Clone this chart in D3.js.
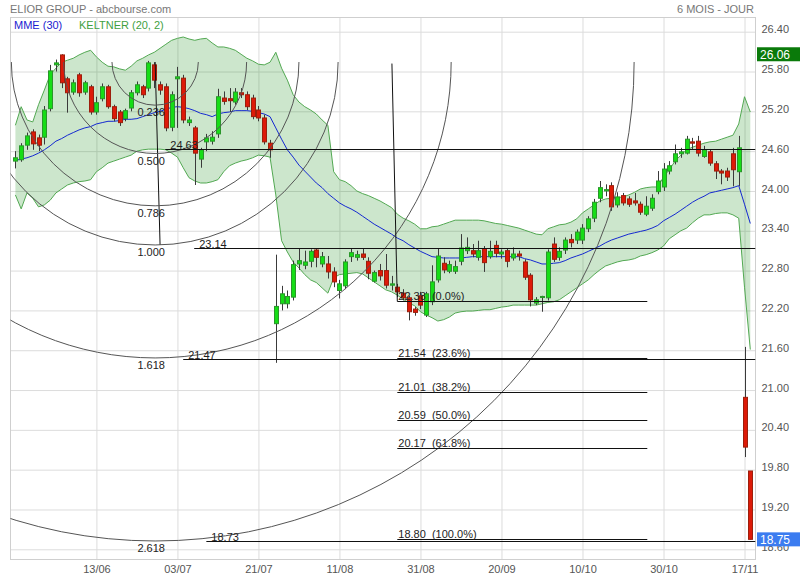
<!DOCTYPE html>
<html><head><meta charset="utf-8">
<script src="https://cdn.jsdelivr.net/npm/d3@7/dist/d3.min.js"></script>
<style>
html,body{margin:0;padding:0;background:#fff;}
svg text{font-family:"Liberation Sans",Arial,sans-serif;}
</style></head><body>
<svg id="chart" width="800" height="580"></svg>
<script>
// ---------------- DATA ----------------
const title = "ELIOR GROUP - abcbourse.com";
const period = "6 MOIS - JOUR";
const xTickIndex = [14, 28, 42, 56, 70, 84, 98, 112, 126];
const xTickLabels = ["13/06","03/07","21/07","11/08","31/08","20/09","10/10","30/10","17/11"];
const yTicks = [26.40,25.80,25.20,24.60,24.00,23.40,22.80,22.20,21.60,21.00,20.40,19.80,19.20,18.60];

const opens = [24.45,24.47,24.69,24.89,24.80,24.81,25.24,25.90,26.05,25.69,25.49,25.75,25.49,25.57,25.19,25.39,25.57,25.27,25.19,25.09,
25.25,25.48,25.57,25.55,25.90,25.60,25.57,24.96,25.69,25.70,25.03,24.95,24.48,24.74,24.75,24.86,25.40,25.39,25.34,25.48,
25.45,25.40,25.22,25.10,24.72,22.00,22.30,22.30,22.40,22.90,22.88,22.94,23.11,22.90,22.90,22.78,22.50,22.57,23.01,23.00,
23.05,22.94,22.64,22.80,22.80,22.58,22.55,22.46,22.39,22.22,22.42,22.13,22.33,22.66,22.91,22.79,22.79,22.94,23.10,23.10,
23.00,23.13,23.01,23.18,23.05,23.10,22.99,23.05,22.93,22.73,22.31,22.40,22.39,23.20,23.00,23.11,23.27,23.26,23.26,23.43,
23.59,23.89,24.00,24.08,23.79,23.93,23.88,23.85,23.80,23.65,23.74,23.99,24.06,24.30,24.44,24.56,24.57,24.74,24.75,24.52,
24.59,24.41,24.30,24.30,24.56,24.29,20.89,19.78];
const highs = [24.60,24.72,24.88,24.93,24.85,25.28,25.90,25.98,26.06,25.72,25.68,25.78,25.66,25.60,25.42,25.62,25.60,25.30,25.22,25.24,
25.52,25.65,25.60,25.96,25.94,25.65,25.62,25.50,25.87,25.75,25.12,24.98,24.65,24.86,24.90,25.54,25.50,25.55,25.55,25.55,
25.50,25.45,25.28,25.15,24.77,23.04,22.57,22.50,22.95,23.14,23.10,23.12,23.14,23.08,23.02,22.85,22.66,22.97,23.13,23.10,
23.14,23.00,22.80,22.90,23.05,22.72,22.60,22.52,22.42,22.25,22.48,22.48,22.88,23.14,23.00,22.95,22.95,23.35,23.30,23.20,
23.25,23.17,23.25,23.25,23.12,23.13,23.15,23.10,22.97,22.76,22.40,22.42,23.12,23.30,23.15,23.30,23.35,23.42,23.50,23.62,
23.88,24.15,24.10,24.13,23.98,23.97,23.92,23.97,23.84,23.92,23.95,24.30,24.42,24.45,24.70,24.65,24.83,24.80,24.83,24.68,
24.63,24.45,24.33,24.35,24.65,24.83,21.65,19.78];
const lows = [24.34,24.44,24.62,24.62,24.60,24.70,25.20,25.80,25.55,25.18,25.45,25.42,25.45,25.15,25.15,25.35,25.24,25.05,24.98,25.05,
25.20,25.44,25.40,25.50,25.55,25.45,24.90,24.90,24.95,25.02,24.98,24.09,24.35,24.60,24.70,24.80,25.30,25.19,25.30,25.40,
25.22,25.08,25.05,24.70,24.50,21.41,22.20,22.23,22.35,22.81,22.82,22.85,22.85,22.85,22.68,22.55,22.38,22.52,22.93,22.95,
22.96,22.67,22.62,22.65,22.53,22.50,22.40,22.35,22.05,22.12,22.22,22.10,22.28,22.62,22.76,22.76,22.75,22.88,23.05,23.00,
22.95,22.78,22.98,23.00,22.98,22.85,22.95,22.95,22.66,22.26,22.28,22.18,22.35,22.93,22.95,23.05,23.15,23.20,23.20,23.38,
23.53,23.83,23.92,23.70,23.75,23.78,23.76,23.78,23.64,23.62,23.70,23.95,24.00,24.25,24.40,24.50,24.55,24.62,24.52,24.50,
24.38,24.18,24.10,24.15,24.07,24.07,19.99,18.75];
const closes = [24.50,24.68,24.83,24.71,24.69,25.22,25.81,25.93,25.63,25.48,25.63,25.48,25.63,25.19,25.33,25.57,25.27,25.09,25.03,25.21,
25.48,25.60,25.45,25.93,25.67,25.52,24.95,25.45,25.72,25.07,25.07,24.57,24.62,24.80,24.81,25.42,25.35,25.36,25.49,25.45,
25.27,25.12,25.10,24.74,24.62,22.26,22.45,22.41,22.89,22.95,22.93,23.09,23.00,23.01,22.78,22.63,22.60,22.93,23.07,23.04,
23.00,22.76,22.77,22.72,22.58,22.60,22.48,22.39,22.18,22.17,22.28,22.45,22.63,23.02,22.81,22.89,22.86,23.14,23.15,23.05,
23.10,22.92,23.09,23.06,23.08,22.94,23.05,23.02,22.70,22.36,22.36,22.41,23.08,22.97,23.09,23.26,23.22,23.38,23.44,23.58,
23.83,24.05,24.02,23.76,23.91,23.82,23.80,23.82,23.68,23.77,23.89,24.15,24.33,24.38,24.56,24.59,24.78,24.72,24.57,24.62,
24.42,24.30,24.27,24.21,24.32,24.65,20.14,18.75];

const mme30 = [24.46,24.48,24.50,24.53,24.57,24.62,24.68,24.75,24.79,24.84,24.88,24.92,24.95,24.97,25.01,25.03,25.05,25.05,25.06,25.08,
25.08,25.09,25.12,25.15,25.18,25.20,25.23,25.26,25.27,25.26,25.24,25.21,25.17,25.15,25.12,25.16,25.18,25.19,25.21,25.21,
25.21,25.20,25.18,25.16,25.12,24.95,24.78,24.62,24.51,24.39,24.30,24.21,24.12,24.05,23.96,23.89,23.82,23.77,23.73,23.68,
23.62,23.56,23.50,23.45,23.40,23.35,23.29,23.25,23.19,23.14,23.09,23.05,23.01,23.00,22.99,22.99,22.99,22.99,23.00,23.01,
23.01,23.01,23.01,23.01,23.01,23.01,23.01,23.01,22.98,22.96,22.93,22.90,22.90,22.91,22.92,22.95,22.99,23.02,23.05,23.09,
23.13,23.17,23.22,23.26,23.29,23.32,23.35,23.37,23.39,23.41,23.44,23.48,23.55,23.60,23.65,23.71,23.77,23.83,23.88,23.92,
23.97,23.99,24.01,24.03,24.05,24.08,23.80,23.51];
const keltnerUpper = [24.99,25.27,25.07,25.04,25.30,25.52,25.75,25.85,25.94,25.97,26.00,26.05,26.09,26.12,26.02,25.94,25.88,25.87,25.84,25.82,
25.88,25.96,26.00,26.05,26.09,26.15,26.21,26.27,26.30,26.32,26.29,26.27,26.29,26.30,26.23,26.17,26.17,26.15,26.12,26.06,
26.00,25.96,25.91,25.90,25.94,26.09,25.85,25.67,25.45,25.34,25.27,25.22,25.16,25.07,24.99,24.29,24.17,24.14,24.08,24.00,
23.96,23.93,23.89,23.85,23.80,23.75,23.65,23.59,23.55,23.50,23.43,23.43,23.46,23.47,23.50,23.53,23.56,23.56,23.56,23.56,
23.56,23.55,23.53,23.51,23.50,23.48,23.46,23.44,23.41,23.38,23.35,23.34,23.43,23.46,23.49,23.50,23.53,23.58,23.67,23.73,
23.79,23.85,23.88,23.89,23.90,23.91,23.94,23.98,24.03,24.05,24.06,24.06,24.21,24.32,24.45,24.54,24.62,24.66,24.69,24.72,
24.74,24.75,24.78,24.81,24.84,25.01,25.42,25.19];
const keltnerLower = [23.94,23.73,23.97,23.89,23.76,23.79,23.86,23.97,24.03,24.09,24.12,24.14,24.15,24.17,24.29,24.35,24.42,24.45,24.48,24.51,
24.54,24.60,24.62,24.63,24.63,24.63,24.62,24.57,24.51,24.35,24.20,24.15,24.12,24.12,24.14,24.17,24.29,24.38,24.42,24.45,
24.47,24.50,24.54,24.53,24.51,23.94,23.25,23.08,22.93,22.84,22.74,22.66,22.62,22.54,22.46,22.69,22.74,22.75,22.76,22.77,
22.75,22.69,22.63,22.57,22.51,22.48,22.43,22.37,22.31,22.27,22.18,22.13,22.09,22.04,22.06,22.10,22.16,22.18,22.19,22.19,
22.20,22.21,22.21,22.23,22.25,22.26,22.28,22.28,22.28,22.28,22.28,22.30,22.32,22.33,22.36,22.42,22.48,22.54,22.60,22.66,
22.74,22.81,22.87,22.90,22.93,22.95,22.96,22.98,23.02,23.04,23.07,23.11,23.17,23.28,23.34,23.40,23.44,23.52,23.59,23.64,
23.64,23.66,23.67,23.67,23.64,23.59,22.55,21.61];

// Fibonacci arcs (trend line top -> bottom, arcs centred on the top point)
const arcTrend = {i0: 24.15, v0: 25.943, i1: 25.0, v1: 23.187};
const arcLevels = [0.236, 0.5, 0.786, 1.0, 1.618, 2.618];
// horizontal lines drawn from the arcs
const hLineValues = [24.63, 23.14, 21.47, 18.73];
const hLineStartIndex = [25.9, 30.9, 29.0, 33.0];

// Fibonacci retracement (trend line top -> bottom, levels extended below)
const retrTrend = {i0: 65.07, v0: 25.92, i1: 66.0, v1: 22.335};
const retrEndIndex = 109.2;
const retrPercents = [0, 23.6, 38.2, 50.0, 61.8, 100.0];
const retrLabels = ["22.38", "21.54", "21.01", "20.59", "20.17", "18.80"];

const periodHigh = 26.06;
const lastClose = closes[closes.length - 1];

// ---------------- LAYOUT ----------------
const L = 10.5, R = 755.5, T = 17.5, B = 559.5;
const svg = d3.select("#chart");
const x = d3.scaleLinear().domain([0, 127]).range([15.4, 750.3]);
const y = d3.scaleLinear().domain([18.6, 26.4]).range([549.3, 31.7]);
const idx = d3.range(closes.length);

svg.append("defs").append("clipPath").attr("id","plot")
  .append("rect").attr("x",L).attr("y",T).attr("width",R-L).attr("height",B-T);

// grid + axes
svg.append("g").attr("transform",`translate(${R},0)`)
  .call(d3.axisRight(y).tickValues(yTicks).tickFormat(d3.format(".2f"))
    .tickSizeInner(-(R-L)).tickSizeOuter(0).tickPadding(6))
  .call(g=>g.select(".domain").remove())
  .call(g=>g.selectAll(".tick line").attr("stroke","#dcdcdc"))
  .call(g=>g.selectAll(".tick text").attr("fill","#555").attr("font-size",11)
    .attr("font-family","Liberation Sans, Arial, sans-serif").attr("dy","0.1em"));

svg.append("g").attr("transform",`translate(0,${B})`)
  .call(d3.axisBottom(x).tickValues(xTickIndex).tickFormat((d,i)=>xTickLabels[i])
    .tickSizeInner(-(B-T)).tickSizeOuter(0).tickPadding(6))
  .call(g=>g.select(".domain").remove())
  .call(g=>g.selectAll(".tick line").attr("stroke","#dcdcdc"))
  .call(g=>g.selectAll(".tick text").attr("fill","#555").attr("font-size",11)
    .attr("font-family","Liberation Sans, Arial, sans-serif"));

// frame
svg.append("rect").attr("x",L).attr("y",T).attr("width",R-L).attr("height",B-T)
  .attr("fill","none").attr("stroke","#cfcfcf");

const plot = svg.append("g").attr("clip-path","url(#plot)");

// Keltner channel
plot.append("path").datum(idx)
  .attr("d", d3.area().x(i=>x(i)).y0(i=>y(keltnerLower[i])).y1(i=>y(keltnerUpper[i])))
  .attr("fill","rgb(0,128,0)").attr("fill-opacity",0.2);
[keltnerUpper, keltnerLower].forEach(arr=>{
  plot.append("path").datum(idx)
    .attr("d", d3.line().x(i=>x(i)).y(i=>y(arr[i])))
    .attr("fill","none").attr("stroke","#52a852").attr("stroke-width",1);
});
// MME 30
plot.append("path").datum(idx)
  .attr("d", d3.line().x(i=>x(i)).y(i=>y(mme30[i])))
  .attr("fill","none").attr("stroke","#1428d0").attr("stroke-width",1);

// candles
const cg = plot.append("g");
idx.forEach(i=>{
  const cx = Math.round(x(i)) + 0.5;
  const up = closes[i] >= opens[i];
  cg.append("line").attr("x1",cx).attr("x2",cx)
    .attr("y1",y(highs[i])).attr("y2",y(lows[i]))
    .attr("stroke","#3a3a3a").attr("stroke-width",1);
  const top = y(Math.max(opens[i],closes[i])), bot = y(Math.min(opens[i],closes[i]));
  cg.append("rect").attr("x",cx-2).attr("width",4)
    .attr("y",top).attr("height",Math.max(1,bot-top))
    .attr("fill", up ? "#16dd16" : "#dd1a08")
    .attr("stroke", up ? "#2a962a" : "#9c1f0c").attr("stroke-width",1);
});

// Fibonacci arcs
const ag = svg.append("g").attr("clip-path","url(#plot)");
const ax0 = x(arcTrend.i0), ay0 = y(arcTrend.v0), ax1 = x(arcTrend.i1), ay1 = y(arcTrend.v1);
const unit = Math.hypot(ax1-ax0, ay1-ay0);
ag.append("line").attr("x1",ax0).attr("y1",ay0).attr("x2",ax1).attr("y2",ay1)
  .attr("stroke","#111").attr("stroke-width",1);
arcLevels.forEach(lv=>{
  const r = lv*unit;
  ag.append("path").attr("d",`M${ax0-r},${ay0} A${r},${r} 0 0 0 ${ax0+r},${ay0}`)
    .attr("fill","none").attr("stroke","#555").attr("stroke-width",1);
  ag.append("text").attr("x",ax0-4).attr("y",ay0+r+11).attr("text-anchor","middle")
    .attr("font-size",11).attr("fill","#222").text(d3.format(".3f")(lv));
});
hLineValues.forEach((v,k)=>{
  const yy = Math.round(y(v))+0.5, xs = x(hLineStartIndex[k]);
  ag.append("line").attr("x1",xs).attr("x2",R).attr("y1",yy).attr("y2",yy)
    .attr("stroke","#111").attr("stroke-width",1);
  ag.append("text").attr("x",xs+5).attr("y",yy-1).attr("font-size",11)
    .attr("fill","#222").text(d3.format(".2f")(v));
});

// Fibonacci retracement
const rx0 = x(retrTrend.i0), ry0 = y(retrTrend.v0), rx1 = x(retrTrend.i1), ry1 = y(retrTrend.v1);
ag.append("line").attr("x1",rx0).attr("y1",ry0).attr("x2",rx1).attr("y2",ry1)
  .attr("stroke","#111").attr("stroke-width",1);
const range = retrTrend.v0 - retrTrend.v1;
retrPercents.forEach((p,k)=>{
  const v = retrTrend.v1 - p/100*range;
  const yy = Math.round(y(v))+0.5;
  ag.append("line").attr("x1",rx1).attr("x2",x(retrEndIndex)).attr("y1",yy).attr("y2",yy)
    .attr("stroke","#111").attr("stroke-width",1);
  ag.append("text").attr("x",rx1+1).attr("y",yy-1.5).attr("font-size",11)
    .attr("fill","#222").style("white-space","pre")
    .text(`${retrLabels[k]}  (${p.toFixed(1)}%)`);
});

// header + legend
svg.append("text").attr("x",10).attr("y",13).attr("font-size",11).attr("fill","#777").text(title);
svg.append("text").attr("x",754).attr("y",13).attr("text-anchor","end").attr("font-size",11).attr("fill","#777").text(period);
svg.append("text").attr("x",14).attr("y",29).attr("font-size",11).attr("fill","#1a1ad0").text("MME (30)");
svg.append("text").attr("x",79).attr("y",29).attr("font-size",11).attr("fill","#3f9f3f").text("KELTNER (20, 2)");

// price boxes on axis
[[periodHigh,"#0a7a0a"],[lastClose,"#3b7cf0"]].forEach(([v,c])=>{
  const yy = y(v);
  svg.append("rect").attr("x",757).attr("y",yy-7).attr("width",43).attr("height",14).attr("fill",c);
  svg.append("text").attr("x",760).attr("y",yy+4.5).attr("font-size",12).attr("fill","#fff").text(v.toFixed(2));
});
</script>
</body></html>
